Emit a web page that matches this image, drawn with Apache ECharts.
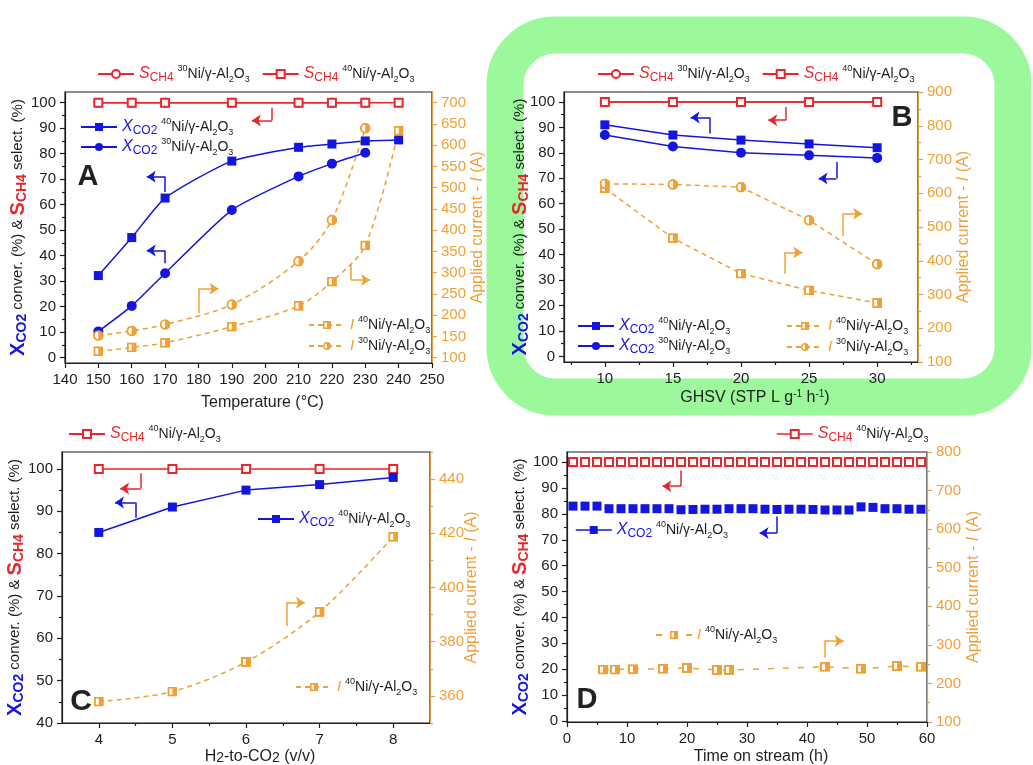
<!DOCTYPE html>
<html>
<head>
<meta charset="utf-8">
<script src="https://cdn.jsdelivr.net/npm/echarts@6/dist/echarts.min.js"></script>
<style>html,body{margin:0;padding:0;background:#fff}#main{width:1033px;height:765px}</style>
</head>
<body>
<div id="main"></div>
<script>
var FONT = '"Liberation Sans", Arial, sans-serif';
var RED = '#E8262B';
var BLUE = '#1515E0';
var ORANGE = '#F0A035';
var AXIS_ORANGE = '#D9A24E';
var INK = '#1e1e1e';

/* ---- A : temperature ---- */
var tempA = [150, 160, 170, 190, 210, 220, 230, 240];
var sA30 = [100, 100, 100, 100, 100, 100, 100, null];
var sA40 = [100, 100, 100, 100, 100, 100, 100, 100];
var xA40 = [32.2, 47.1, 62.6, 77.1, 82.5, 83.8, 85, 85.4];
var xA30 = [10.3, 20.3, 33.1, 57.9, 71.1, 76.1, 80.4, null];
var iA40 = [115, 124, 135, 173, 222, 279, 364, 634];
var iA30 = [152, 163, 178, 225, 327, 424, 640, null];
var xTicksA = [140, 150, 160, 170, 180, 190, 200, 210, 220, 230, 240, 250];
var rTicksA = [100, 150, 200, 250, 300, 350, 400, 450, 500, 550, 600, 650, 700];

/* ---- B : GHSV ---- */
var ghsvB = [10, 15, 20, 25, 30];
var sB30 = [100, 100, 100, 100, 100];
var sB40 = [100, 100, 100, 100, 100];
var xB40 = [91, 87, 85, 83.5, 82];
var xB30 = [87, 82.5, 80, 79, 78];
var iB40 = [615, 467, 362, 312, 275];
var iB30 = [628, 626, 618, 520, 390];
var xTicksB = [10, 15, 20, 25, 30];
var xMinorB = [7.5, 12.5, 17.5, 22.5, 27.5, 32.5];
var rTicksB = [100, 200, 300, 400, 500, 600, 700, 800, 900];
var rMinorB = [150, 250, 350, 450, 550, 650, 750, 850];

/* ---- C : H2-to-CO2 ---- */
var ratioC = [4, 5, 6, 7, 8];
var sC40 = [100, 100, 100, 100, 100];
var xC40 = [85, 91, 95, 96.3, 98];
var iC40 = [357.9, 361.6, 372.5, 391, 418.7];
var xTicksC = [4, 5, 6, 7, 8];
var xMinorC = [4.5, 5.5, 6.5, 7.5];
var lTicksC = [40, 50, 60, 70, 80, 90, 100];
var lMinorC = [45, 55, 65, 75, 85, 95];
var rTicksC = [360, 380, 400, 420, 440];
var rMinorC = [350, 370, 390, 410, 430, 450];

/* ---- D : time on stream ---- */
var timeD = [1, 3, 5, 7, 9, 11, 13, 15, 17, 19, 21, 23, 25, 27, 29, 31, 33, 35, 37, 39, 41, 43, 45, 47, 49, 51, 53, 55, 57, 59];
var sD40 = [100, 100, 100, 100, 100, 100, 100, 100, 100, 100, 100, 100, 100, 100, 100, 100, 100, 100, 100, 100, 100, 100, 100, 100, 100, 100, 100, 100, 100, 100];
var xD40 = [83, 83, 83, 82, 82, 82, 82, 82, 82, 81.6, 81.7, 81.8, 81.8, 82, 82, 82, 81.8, 81.7, 81.8, 81.8, 81.7, 81.5, 81.5, 81.5, 82.7, 82.5, 82, 82, 81.8, 81.8];
var timeDI = [6, 8, 11, 16, 20, 25, 27, 43, 49, 55, 59];
var iD40 = [236, 236, 237, 238, 240, 235, 235, 243, 238, 245, 243];
var xTicksD = [0, 10, 20, 30, 40, 50, 60];
var xMinorD = [5, 15, 25, 35, 45, 55];
var rTicksD = [100, 200, 300, 400, 500, 600, 700, 800];
var rMinorD = [150, 250, 350, 450, 550, 650, 750];

var lTicks = [0, 10, 20, 30, 40, 50, 60, 70, 80, 90, 100];
var lMinor = [5, 15, 25, 35, 45, 55, 65, 75, 85, 95];

/* direction arrows (data coords of the left axis): colour, start, bend, tip */
var arrowsA = [
    [RED, [202, 98], [202, 93], [196, 93]],
    [BLUE, [170, 65], [170, 71], [164.5, 71]],
    [BLUE, [170, 37], [170, 42], [164.5, 42]],
    [ORANGE, [180, 17.4], [180, 27], [186, 27]],
    [ORANGE, [225.7, 36.6], [225.7, 30.5], [231.4, 30.5]]
];
var arrowsB = [
    [BLUE, [17.7, 87.6], [17.7, 93.9], [16.3, 93.9]],
    [RED, [23.3, 98], [23.3, 92.8], [22, 92.8]],
    [BLUE, [27, 76.4], [27, 69.9], [25.7, 69.9]],
    [ORANGE, [23.2, 32.5], [23.2, 40.8], [24.5, 40.8]],
    [ORANGE, [27.5, 47.3], [27.5, 56.1], [28.9, 56.1]]
];
var arrowsC = [
    [RED, [4.57, 99], [4.57, 95.4], [4.29, 95.4]],
    [BLUE, [4.5, 88.5], [4.5, 92.1], [4.22, 92.1]],
    [ORANGE, [6.55, 62.9], [6.55, 68.4], [6.8, 68.4]]
];
var arrowsD = [
    [RED, [19, 96.8], [19, 90.7], [15.9, 90.7]],
    [BLUE, [35, 79], [35, 72.6], [32.1, 72.6]],
    [ORANGE, [42.9, 24.5], [42.9, 30.9], [46.1, 30.9]]
];

function pairs(xs, ys) {
    var out = [];
    for (var i = 0; i < xs.length; i++) {
        if (ys[i] != null) out.push([xs[i], ys[i]]);
    }
    return out;
}

function halfIcon(shape) {
    var svg;
    if (shape === 'rect') {
        svg = "<svg xmlns='http://www.w3.org/2000/svg' width='20' height='20'>" +
            "<rect x='2' y='2' width='16' height='16' fill='#fff' stroke='" + ORANGE + "' stroke-width='4'/>" +
            "<rect x='10' y='2' width='8' height='16' fill='" + ORANGE + "'/></svg>";
    } else {
        svg = "<svg xmlns='http://www.w3.org/2000/svg' width='20' height='20'>" +
            "<circle cx='10' cy='10' r='8' fill='#fff' stroke='" + ORANGE + "' stroke-width='3.5'/>" +
            "<path d='M10 2 A8 8 0 0 1 10 18 Z' fill='" + ORANGE + "'/></svg>";
    }
    return 'image://data:image/svg+xml;charset=utf-8,' + encodeURIComponent(svg);
}

/* ---------- text styles ---------- */
var rich = {
    t: {fontSize: 14, color: INK, fontFamily: FONT, lineHeight: 20},
    sup: {fontSize: 9, color: INK, fontFamily: FONT, lineHeight: 12, verticalAlign: 'top'},
    sub: {fontSize: 9, color: INK, fontFamily: FONT, lineHeight: 12, verticalAlign: 'bottom'},
    si: {fontSize: 16, color: RED, fontFamily: FONT, fontStyle: 'italic', lineHeight: 20},
    ssub: {fontSize: 12, color: RED, fontFamily: FONT, lineHeight: 14, verticalAlign: 'bottom'},
    xi: {fontSize: 16, color: BLUE, fontFamily: FONT, fontStyle: 'italic', lineHeight: 20},
    xsub: {fontSize: 12, color: BLUE, fontFamily: FONT, lineHeight: 14, verticalAlign: 'bottom'},
    ii: {fontSize: 15, color: ORANGE, fontFamily: FONT, fontStyle: 'italic', lineHeight: 20}
};
function cat(n) {
    return '{sup|' + n + '}{t|Ni/γ-Al}{sub|2}{t|O}{sub|3}';
}
var legendText = {
    A_S30: '{si|S}{ssub|CH4} ' + cat(30), A_S40: '{si|S}{ssub|CH4} ' + cat(40),
    A_X40: '{xi|X}{xsub|CO2} ' + cat(40), A_X30: '{xi|X}{xsub|CO2} ' + cat(30),
    A_I40: '{ii|I} ' + cat(40), A_I30: '{ii|I} ' + cat(30),
    B_S30: '{si|S}{ssub|CH4} ' + cat(30), B_S40: '{si|S}{ssub|CH4} ' + cat(40),
    B_X40: '{xi|X}{xsub|CO2} ' + cat(40), B_X30: '{xi|X}{xsub|CO2} ' + cat(30),
    B_I40: '{ii|I} ' + cat(40), B_I30: '{ii|I} ' + cat(30),
    C_S40: '{si|S}{ssub|CH4} ' + cat(40), C_X40: '{xi|X}{xsub|CO2} ' + cat(40), C_I40: '{ii|I} ' + cat(40),
    D_S40: '{si|S}{ssub|CH4} ' + cat(40), D_X40: '{xi|X}{xsub|CO2} ' + cat(40), D_I40: '{ii|I} ' + cat(40)
};

var nameRich = {
    n: {fontSize: 15, color: INK, fontFamily: FONT},
    m: {fontSize: 16, color: INK, fontFamily: FONT, lineHeight: 17},
    sp: {fontSize: 10, color: INK, fontFamily: FONT, verticalAlign: 'top', lineHeight: 10},
    sb: {fontSize: 14, color: INK, fontFamily: FONT, verticalAlign: 'bottom', lineHeight: 14},
    xb: {fontSize: 20, color: BLUE, fontFamily: FONT, fontWeight: 'bold', lineHeight: 22},
    xbs: {fontSize: 14, color: BLUE, fontFamily: FONT, fontWeight: 'bold', verticalAlign: 'bottom', lineHeight: 14},
    rb: {fontSize: 20, color: RED, fontFamily: FONT, fontWeight: 'bold', lineHeight: 22},
    rbs: {fontSize: 14, color: RED, fontFamily: FONT, fontWeight: 'bold', verticalAlign: 'bottom', lineHeight: 14},
    o: {fontSize: 16, color: ORANGE, fontFamily: FONT},
    oi: {fontSize: 16, color: ORANGE, fontFamily: FONT, fontStyle: 'italic'}
};
var leftName = '{xb|X}{xbs|CO2}{n| conver. (%) & }{rb|S}{rbs|CH4}{n| select. (%)}';
var rightName = '{o|Applied current - }{oi|I}{o| (A)}';

/* ---------- axes ---------- */
function axis(grid, pos, min, max, labels, ticks, color, labelColor, name, gap) {
    var vertical = (pos === 'left' || pos === 'right');
    return {
        type: 'value', gridIndex: grid, position: pos, min: min, max: max,
        splitLine: {show: false},
        axisLine: {show: true, onZero: false, lineStyle: {color: color, width: 1.2}},
        axisTick: {show: true, inside: false, length: 5, customValues: ticks, lineStyle: {color: color, width: 1.2}},
        axisLabel: {show: true, customValues: labels, color: labelColor, fontSize: 15, fontFamily: FONT, margin: 9},
        name: name || '', nameLocation: 'middle', nameGap: gap || 30,
        nameRotate: vertical ? 90 : 0,
        nameMoveOverlap: false,
        nameTextStyle: {rich: nameRich, fontFamily: FONT, fontSize: 16, color: INK,
            padding: vertical ? 0 : [0, 0, 0, 28]}
    };
}
function minorAxis(grid, pos, min, max, ticks, color) {
    return {
        type: 'value', gridIndex: grid, position: pos, min: min, max: max,
        splitLine: {show: false},
        axisLine: {show: false, onZero: false},
        axisTick: {show: true, inside: false, length: 3, customValues: ticks, lineStyle: {color: color, width: 1.2}},
        axisLabel: {show: false}
    };
}

var xAxes = [
    axis(0, 'bottom', 140, 250, xTicksA, xTicksA, INK, INK, '{m|Temperature (°C)}', 31),
    axis(1, 'bottom', 7, 33, xTicksB, xTicksB, INK, INK, '{m|GHSV (STP L g}{sp|-1}{m| h}{sp|-1}{m|)}', 27),
    minorAxis(1, 'bottom', 7, 33, xMinorB, INK),
    axis(2, 'bottom', 3.5, 8.5, xTicksC, xTicksC, INK, INK, '{m|H}{sb|2}{m|-to-CO}{sb|2}{m| (v/v)}', 25),
    minorAxis(2, 'bottom', 3.5, 8.5, xMinorC, INK),
    axis(3, 'bottom', 0, 60, xTicksD, xTicksD, INK, INK, '{m|Time on stream (h)}', 26),
    minorAxis(3, 'bottom', 0, 60, xMinorD, INK)
];
var yAxes = [
    axis(0, 'left', -2.1, 104.2, lTicks, lTicks, INK, INK, leftName, 36),        // 0
    minorAxis(0, 'left', -2.1, 104.2, lMinor, INK),                              // 1
    axis(0, 'right', 87.4, 725.2, rTicksA, rTicksA, AXIS_ORANGE, ORANGE, rightName, 38), // 2
    axis(1, 'left', -2.2, 103.9, lTicks, lTicks, INK, INK, leftName, 33),        // 3
    minorAxis(1, 'left', -2.2, 103.9, lMinor, INK),                              // 4
    axis(1, 'right', 100, 900, rTicksB, rTicksB, AXIS_ORANGE, ORANGE, rightName, 38), // 5
    minorAxis(1, 'right', 100, 900, rMinorB, AXIS_ORANGE),                       // 6
    axis(2, 'left', 40, 104, lTicksC, lTicksC, INK, INK, leftName, 36),          // 7
    minorAxis(2, 'left', 40, 104, lMinorC, INK),                                 // 8
    axis(2, 'right', 350, 450, rTicksC, rTicksC, AXIS_ORANGE, ORANGE, rightName, 34), // 9
    minorAxis(2, 'right', 350, 450, rMinorC, AXIS_ORANGE),                       // 10
    axis(3, 'left', -0.4, 103.9, lTicks, lTicks, INK, INK, leftName, 36),        // 11
    minorAxis(3, 'left', -0.4, 103.9, lMinor, INK),                              // 12
    axis(3, 'right', 100, 800, rTicksD, rTicksD, AXIS_ORANGE, ORANGE, rightName, 39), // 13
    minorAxis(3, 'right', 100, 800, rMinorD, AXIS_ORANGE)                        // 14
];

/* ---------- series ---------- */
function sel(name, xi, yi, data, o) {
    var s = {
        name: name, type: 'line', xAxisIndex: xi, yAxisIndex: yi, data: data,
        symbol: o.symbol, symbolSize: o.size || 9, showAllSymbol: true,
        smooth: o.smooth || false,
        lineStyle: {color: o.color, width: o.hideLine ? 0 : 1.5, type: o.dash ? (o.dash === 'wide' ? [6, 9] : [5, 4]) : 'solid', opacity: o.hideLine ? 0 : 1},
        itemStyle: {color: o.color, borderColor: o.color, borderWidth: o.border || 0},
        z: o.z || 3,
        silent: true, animation: false
    };
    return s;
}
var SQ = halfIcon('rect'), CI = halfIcon('circle');

var series = [
    sel('A_S30', 0, 0, pairs(tempA, sA30), {symbol: 'emptyCircle', size: 8, color: RED, border: 2}),
    sel('A_S40', 0, 0, pairs(tempA, sA40), {symbol: 'emptyRect', size: 8, color: RED, border: 2}),
    sel('A_X40', 0, 0, pairs(tempA, xA40), {symbol: 'rect', size: 9, color: BLUE, smooth: 0.2}),
    sel('A_X30', 0, 0, pairs(tempA, xA30), {symbol: 'circle', size: 10, color: BLUE, smooth: 0.2}),
    sel('A_I40', 0, 2, pairs(tempA, iA40), {symbol: SQ, size: 10, color: ORANGE, dash: true, smooth: 0.3}),
    sel('A_I30', 0, 2, pairs(tempA, iA30), {symbol: CI, size: 11, color: ORANGE, dash: true, smooth: 0.3}),

    sel('B_S30', 1, 3, pairs(ghsvB, sB30), {symbol: 'emptyCircle', size: 8, color: RED, border: 2}),
    sel('B_S40', 1, 3, pairs(ghsvB, sB40), {symbol: 'emptyRect', size: 8, color: RED, border: 2}),
    sel('B_X40', 1, 3, pairs(ghsvB, xB40), {symbol: 'rect', size: 9, color: BLUE}),
    sel('B_X30', 1, 3, pairs(ghsvB, xB30), {symbol: 'circle', size: 10, color: BLUE}),
    sel('B_I40', 1, 5, pairs(ghsvB, iB40), {symbol: SQ, size: 10, color: ORANGE, dash: true}),
    sel('B_I30', 1, 5, pairs(ghsvB, iB30), {symbol: CI, size: 11, color: ORANGE, dash: true}),

    sel('C_S40', 3, 7, pairs(ratioC, sC40), {symbol: 'emptyRect', size: 8, color: RED, border: 2}),
    sel('C_X40', 3, 7, pairs(ratioC, xC40), {symbol: 'rect', size: 9, color: BLUE}),
    sel('C_I40', 3, 9, pairs(ratioC, iC40), {symbol: SQ, size: 10, color: ORANGE, dash: true, smooth: 0.3}),

    sel('D_S40', 5, 11, pairs(timeD, sD40), {symbol: 'emptyRect', size: 8, color: RED, border: 2, hideLine: true}),
    sel('D_X40', 5, 11, pairs(timeD, xD40), {symbol: 'rect', size: 9, color: BLUE, hideLine: true}),
    sel('D_I40', 5, 13, pairs(timeDI, iD40), {symbol: SQ, size: 10, color: ORANGE, dash: 'wide'})
];

function arrowSeries(list, xi, yi) {
    var stems = [], heads = [];
    list.forEach(function (a) {
        stems.push({coords: [a[1], a[2]], lineStyle: {color: a[0]}});
        heads.push({coords: [a[2], a[3]], lineStyle: {color: a[0]}});
    });
    return [
        {type: 'lines', coordinateSystem: 'cartesian2d', xAxisIndex: xi, yAxisIndex: yi, silent: true,
         symbol: ['none', 'none'], lineStyle: {width: 1.5, opacity: 1}, data: stems, z: 4, animation: false},
        {type: 'lines', coordinateSystem: 'cartesian2d', xAxisIndex: xi, yAxisIndex: yi, silent: true,
         symbol: ['none', 'arrow'], symbolSize: 9, lineStyle: {width: 1.5, opacity: 1}, data: heads, z: 4, animation: false}
    ];
}
series = series.concat(arrowSeries(arrowsA, 0, 0), arrowSeries(arrowsB, 1, 3),
    arrowSeries(arrowsC, 3, 7), arrowSeries(arrowsD, 5, 11));

/* ---------- legends ---------- */
function legend(names, left, top, orient, gap, lineOverride) {
    var l = {
        data: names, left: left, top: top, orient: orient || 'horizontal',
        itemGap: gap == null ? 16 : gap, itemWidth: 36, itemHeight: 10, padding: 0,
        selectedMode: false,
        formatter: function (n) { return legendText[n]; },
        textStyle: {rich: rich, fontFamily: FONT, fontSize: 14}
    };
    if (lineOverride) l.lineStyle = {width: 1.5, opacity: 1};
    return l;
}

var option = {
    backgroundColor: '#fff',
    animation: false,
    grid: [
        {left: 65, top: 92, width: 367, height: 271},
        {left: 564, top: 92, width: 354, height: 270},
        {left: 62, top: 452, width: 368, height: 271},
        {left: 567, top: 452, width: 360, height: 270}
    ].map(function (g) {
        g.show = true; g.borderColor = INK; g.borderWidth = 1.2; g.outerBoundsMode = 'none';
        return g;
    }),
    xAxis: xAxes,
    yAxis: yAxes,
    legend: [
        legend(['A_S30', 'A_S40'], 97, 64, 'horizontal', 12),
        legend(['A_X40', 'A_X30'], 80, 117, 'vertical', 0),
        legend(['A_I40', 'A_I30'], 308, 315, 'vertical', 1),
        legend(['B_S30', 'B_S40'], 597, 64, 'horizontal', 12),
        legend(['B_X40', 'B_X30'], 577, 316, 'vertical', 0),
        legend(['B_I40', 'B_I30'], 786, 316, 'vertical', 1),
        legend(['C_S40'], 68, 424),
        legend(['C_X40'], 257, 509),
        legend(['C_I40'], 295, 677),
        legend(['D_S40'], 776, 424, 'horizontal', 16, true),
        legend(['D_X40'], 575, 520, 'horizontal', 16, true),
        legend(['D_I40'], 655, 625)
    ],
    graphic: [
        {type: 'rect', z: -10, silent: true,
         shape: {x: 505, y: 35, width: 508, height: 362, r: 50},
         style: {fill: 'none', stroke: '#9BF99B', lineWidth: 37}},
        {type: 'text', z: 100, style: {text: 'A', x: 88, y: 177, textAlign: 'center', textVerticalAlign: 'middle', font: 'bold 29px ' + FONT, fill: '#222'}},
        {type: 'text', z: 100, style: {text: 'B', x: 902, y: 118, textAlign: 'center', textVerticalAlign: 'middle', font: 'bold 29px ' + FONT, fill: '#222'}},
        {type: 'text', z: 100, style: {text: 'C', x: 81, y: 702, textAlign: 'center', textVerticalAlign: 'middle', font: 'bold 30px ' + FONT, fill: '#222'}},
        {type: 'text', z: 100, style: {text: 'D', x: 587, y: 700, textAlign: 'center', textVerticalAlign: 'middle', font: 'bold 29px ' + FONT, fill: '#222'}}
    ],
    series: series
};

var chart = echarts.init(document.getElementById('main'));
chart.setOption(option);
</script>
</body>
</html>
